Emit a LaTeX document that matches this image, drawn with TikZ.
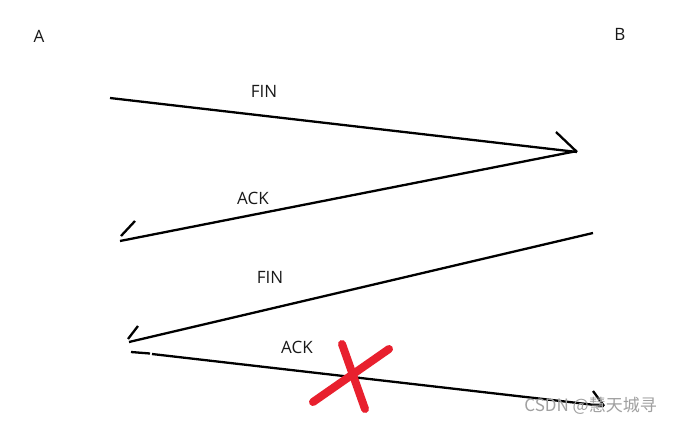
\documentclass[tikz,border=0pt]{standalone}
\usepackage{fontspec}
\setmainfont{Open Sans}
\newfontfamily\cjk{Noto Sans CJK SC}
\definecolor{xred}{HTML}{E8202E}
\definecolor{wmgray}{HTML}{A0A0A0}
\begin{document}
\begin{tikzpicture}[x=1pt,y=-1pt,
  msg/.style={line width=2.3pt,black},
  tick/.style={line width=2.3pt,black},
  lbl/.style={font=\fontsize{17}{19}\selectfont,text=black!90,inner sep=0pt},
  cross/.style={line width=8pt,xred,line cap=round}]
\useasboundingbox[fill=white] (0,0) rectangle (673,424);
% participants
\node[lbl] (A) at (39,36) {A};
\node[lbl] (B) at (620,34) {B};
% message end points
\coordinate (f1s) at (110,98);
\coordinate (f1e) at (577,152);
\coordinate (f1t) at (556,132);
\coordinate (a1s) at (577,151);
\coordinate (a1e) at (120,241);
\coordinate (a1t) at (135,221);
\coordinate (a1b) at (121,236);
\coordinate (f2s) at (593,233);
\coordinate (f2e) at (129,342);
\coordinate (f2t) at (138,326);
\coordinate (f2b) at (128,339);
\coordinate (a2s) at (131,352);
\coordinate (a2g) at (150,353.5);
\coordinate (a2h) at (152,354);
\coordinate (a2e) at (604,406);
\coordinate (a2t) at (593,391);
% FIN 1
\draw[msg] (f1s) -- (f1e);
\draw[tick] (f1t) -- (f1e);
\node[lbl] (l1) at (264,91) {FIN};
% ACK 1
\draw[msg] (a1s) -- (a1e);
\draw[tick] (a1t) -- (a1b);
\node[lbl] (l2) at (253,198) {ACK};
% FIN 2
\draw[msg] (f2s) -- (f2e);
\draw[tick] (f2t) -- (f2b);
\node[lbl] (l3) at (270,277) {FIN};
% ACK 2 (lost)
\draw[msg] (a2s) -- (a2g);
\draw[msg] (a2h) -- (a2e);
\draw[tick] (a2t) -- (a2e);
\node[lbl] (l4) at (297,347) {ACK};
% red cross
\coordinate (x1) at (342,344);
\coordinate (x2) at (365,409);
\coordinate (x3) at (389,349);
\coordinate (x4) at (313,402);
\draw[cross] (x1) -- (x2);
\draw[cross] (x3) -- (x4);
% watermark
\node[font=\cjk\fontsize{17}{19}\selectfont,text=wmgray,inner sep=0pt,anchor=east] (wm) at (657,406) {CSDN @慧天城寻};
\end{tikzpicture}
\end{document}
